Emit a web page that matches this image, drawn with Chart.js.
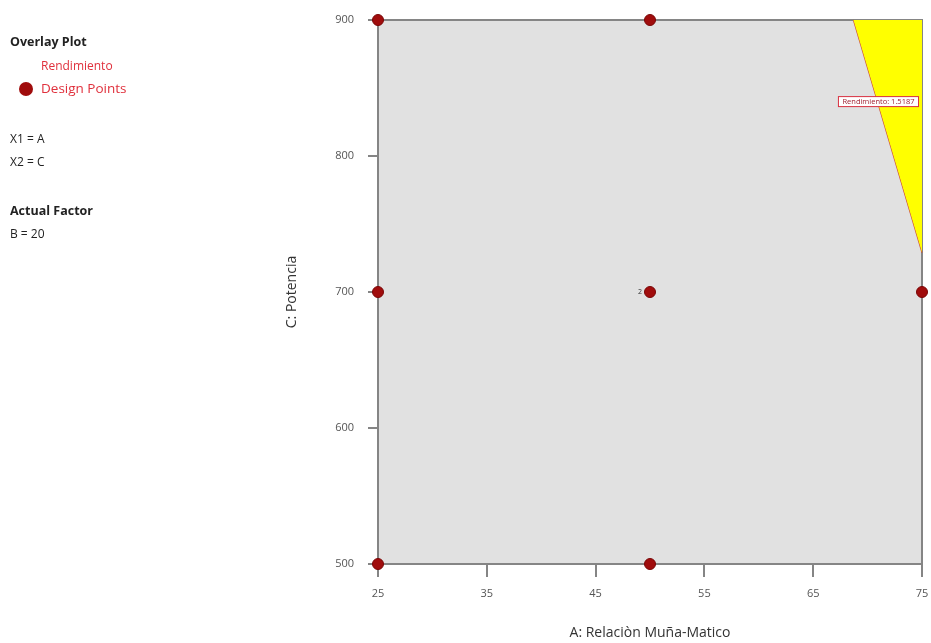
<!DOCTYPE html>
<html>
<head>
<meta charset="utf-8">
<script src="https://cdn.jsdelivr.net/npm/chart.js@4.4.0/dist/chart.umd.min.js"></script>
<style>
  body { margin: 0; background: #fff; font-family: "Open Sans", sans-serif; }
  #wrap { position: relative; width: 931px; height: 643px; }
  #chart { position: absolute; left: 0; top: 0; }
  .side { position: absolute; font-size: 12px; color: #222; white-space: nowrap; line-height: 14px; }
  .b { font-weight: bold; }
  .red { color: #e0303c; }
  .dot { position: absolute; width: 14px; height: 14px; border-radius: 50%; background: #a00c0c; }
</style>
</head>
<body>
<div id="wrap">
  <canvas id="chart" width="931" height="643"></canvas>
  <div class="side b" style="left:10px; top:35px; font-size:12.5px;">Overlay Plot</div>
  <div class="side red" style="left:41px; top:59px;">Rendimiento</div>
  <div class="dot" style="left:19px; top:82px;"></div>
  <div class="side red" style="left:41px; top:81px; font-size:13.5px;">Design Points</div>
  <div class="side" style="left:10px; top:132px;">X1 = A</div>
  <div class="side" style="left:10px; top:155px;">X2 = C</div>
  <div class="side b" style="left:10px; top:204px; font-size:12.5px;">Actual Factor</div>
  <div class="side" style="left:10px; top:227px;">B = 20</div>
</div>
<script>
// design points (A, C)
const designA = [25, 50, 25, 50, 75, 25, 50];
const designC = [900, 900, 700, 700, 700, 500, 500];
const pointLabels = ['', '', '', '2', '', '', ''];

// yellow feasible region and its boundary
const regionA = [68.7, 75, 75];
const regionC = [900, 900, 729];
const boundaryA = [68.7, 75];
const boundaryC = [900, 729];

// flag on the boundary
const flagText = 'Rendimiento: 1.5187';
const flagA = 71;
const flagC = 840;

const xTicks = [25, 35, 45, 55, 65, 75];
const yTicks = [500, 600, 700, 800, 900];

const toXY = (xs, ys) => xs.map((x, i) => ({ x: x, y: ys[i] }));

const frame = {
  id: 'frame',
  beforeDatasetsDraw(chart) {
    const { ctx, chartArea: a } = chart;
    ctx.save();
    ctx.fillStyle = '#e1e1e1';
    ctx.fillRect(a.left, a.top, a.right - a.left, a.bottom - a.top);
    ctx.strokeStyle = '#858585';
    ctx.lineWidth = 2;
    ctx.strokeRect(a.left, a.top, a.right - a.left, a.bottom - a.top);
    ctx.restore();
  },
  afterDatasetsDraw(chart) {
    const { ctx, scales: { x, y } } = chart;
    ctx.save();
    // point labels
    ctx.font = '7px "Open Sans"';
    ctx.fillStyle = '#333';
    ctx.textAlign = 'right';
    ctx.textBaseline = 'middle';
    designA.forEach((a, i) => {
      if (pointLabels[i]) ctx.fillText(pointLabels[i], x.getPixelForValue(a) - 8, y.getPixelForValue(designC[i]));
    });
    // boundary flag
    ctx.font = '7.5px "Open Sans"';
    const w = ctx.measureText(flagText).width + 8;
    const fx = x.getPixelForValue(flagA), fy = y.getPixelForValue(flagC);
    ctx.fillStyle = '#fff';
    ctx.fillRect(fx - w / 2, fy - 5, w, 10);
    ctx.strokeStyle = '#d83040';
    ctx.lineWidth = 1;
    ctx.strokeRect(fx - w / 2, fy - 5, w, 10);
    ctx.fillStyle = '#a02030';
    ctx.textAlign = 'center';
    ctx.fillText(flagText, fx, fy);
    ctx.restore();
  }
};

new Chart(document.getElementById('chart').getContext('2d'), {
  type: 'scatter',
  data: {
    datasets: [
      {
        data: toXY(regionA, regionC),
        showLine: true,
        fill: 'shape',
        backgroundColor: '#ffff00',
        borderWidth: 0,
        pointRadius: 0,
        clip: false
      },
      {
        data: toXY(boundaryA, boundaryC),
        showLine: true,
        borderColor: '#cc4a3a',
        borderWidth: 1.2,
        pointRadius: 0,
        clip: false
      },
      {
        data: toXY(designA, designC),
        backgroundColor: '#a00c0c',
        borderColor: '#7a0606',
        borderWidth: 1,
        pointRadius: 5.5,
        clip: false
      }
    ]
  },
  options: {
    responsive: false,
    animation: false,
    layout: { padding: { left: 280, right: 9, top: 20, bottom: 0 } },
    plugins: { legend: { display: false }, tooltip: { enabled: false } },
    scales: {
      x: {
        type: 'linear',
        min: 25, max: 75,
        afterBuildTicks: s => { s.ticks = xTicks.map(v => ({ value: v })); },
        afterFit: s => { s.height = 79; s.paddingLeft = 0; s.paddingRight = 0; },
        border: { display: false },
        grid: { drawOnChartArea: false, drawTicks: true, tickLength: 13, color: '#858585', lineWidth: 2 },
        ticks: { padding: 10, color: '#555', font: { family: 'Open Sans', size: 11 } },
        title: { display: true, text: 'A: Relaciòn Muña-Matico', color: '#333', font: { family: 'Open Sans', size: 14 }, padding: { top: 4, bottom: 2 } }
      },
      y: {
        type: 'linear',
        min: 500, max: 900,
        afterBuildTicks: s => { s.ticks = yTicks.map(v => ({ value: v })); },
        afterFit: s => { s.width = 98; s.paddingTop = 0; s.paddingBottom = 0; },
        border: { display: false },
        grid: { drawOnChartArea: false, drawTicks: true, tickLength: 10, color: '#858585', lineWidth: 2 },
        ticks: { padding: 14, color: '#555', font: { family: 'Open Sans', size: 11 } },
        title: { display: true, text: 'C: Potencia', color: '#333', font: { family: 'Open Sans', size: 14 }, padding: { top: 4, bottom: 4 } }
      }
    }
  },
  plugins: [frame]
});
</script>
</body>
</html>
